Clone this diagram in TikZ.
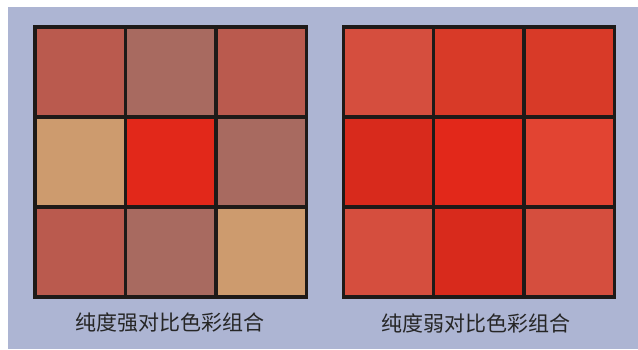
\documentclass[tikz,border=0pt]{standalone}
\usepackage{fontspec}
\newfontfamily\cjk{Noto Sans CJK SC}
\usetikzlibrary{positioning}

\definecolor{bgblue}{HTML}{ADB5D3}
\definecolor{gridline}{HTML}{1E1A18}
\definecolor{brick}{HTML}{BA5A4E}
\definecolor{mauve}{HTML}{A86A60}
\definecolor{tan}{HTML}{CD9B6E}
\definecolor{vivid}{HTML}{E2281A}
\definecolor{coral}{HTML}{D54E3E}
\definecolor{scarlet}{HTML}{D83A28}
\definecolor{crimson}{HTML}{D82A1C}
\definecolor{flame}{HTML}{E24432}
\definecolor{captext}{HTML}{262626}

\begin{document}
\begin{tikzpicture}[
    x=1pt, y=1pt,
    cell/.style={rectangle, draw=gridline, line width=3.2pt, inner sep=0pt, minimum width=90.5pt, minimum height=90pt},
    caption/.style={font=\cjk\fontsize{21}{24}\selectfont, text=captext, inner sep=0pt}
]
    % background
    \fill[white] (0,0) rectangle (638,349);
    \fill[bgblue] (8,0) rectangle (638,342);

    % strong saturation contrast
    \foreach \col/\row/\clr in {1/1/brick, 2/1/mauve, 3/1/brick,
                                1/2/tan, 2/2/vivid, 3/2/mauve,
                                1/3/brick, 2/3/mauve, 3/3/tan}
        \node[cell, fill=\clr] (L\row\col) at (80.3+90.5*\col-90.5, 367-90*\row) {};

    % weak saturation contrast
    \foreach \col/\row/\clr in {1/1/coral, 2/1/scarlet, 3/1/scarlet,
                                1/2/crimson, 2/2/vivid, 3/2/flame,
                                1/3/coral, 2/3/crimson, 3/3/coral}
        \node[cell, fill=\clr] (R\row\col) at (388.8+90.2*\col-90.2, 367-90*\row) {};

    \node[caption] (capL) at (170,26) {纯度强对比色彩组合};
    \node[caption] (capR) at (476,26) {纯度弱对比色彩组合};
\end{tikzpicture}
\end{document}
